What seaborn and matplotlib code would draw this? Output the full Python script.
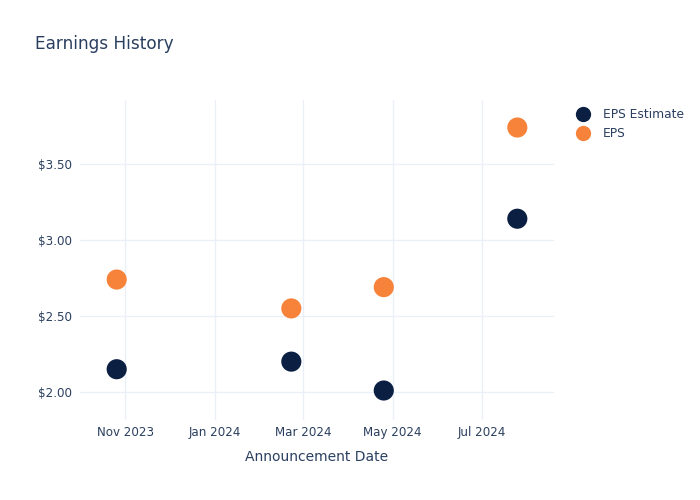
import matplotlib
matplotlib.use("Agg")
import matplotlib.pyplot as plt
import matplotlib.dates as mdates
import seaborn as sns
import pandas as pd

dates = ["2023-10-26", "2024-02-22", "2024-04-25", "2024-07-25"]
eps_estimate = [2.15, 2.20, 2.01, 3.14]
eps_actual = [2.74, 2.55, 2.69, 3.74]
series_names = ["EPS Estimate", "EPS"]
colors = ["#0b1f42", "#f7823a"]

df = pd.DataFrame({
    "date": pd.to_datetime(dates * 2),
    "value": eps_estimate + eps_actual,
    "series": [series_names[0]] * len(dates) + [series_names[1]] * len(dates),
})

sns.set_theme(style="white")
plt.rcParams['font.family'] = ['DejaVu Sans']
text_color = "#2a3f5f"
grid_color = "#ebf0f8"

fig = plt.figure(figsize=(7, 5), dpi=100)
ax = fig.add_axes([80/700, 80/500, (554-80)/700, 320/500])

sns.scatterplot(data=df, x="date", y="value", hue="series",
                palette=dict(zip(series_names, colors)),
                s=210, edgecolor="none", ax=ax, legend=False, zorder=3)

ax.set_xlim(pd.Timestamp("2023-10-01"), pd.Timestamp("2024-08-19"))
ax.set_ylim(1.816, 3.921)
ax.set_yticks([2.0, 2.5, 3.0, 3.5])
ax.set_yticklabels(["$2.00", "$2.50", "$3.00", "$3.50"])
ax.xaxis.set_major_locator(mdates.MonthLocator(bymonth=[1, 3, 5, 7, 11]))
ax.xaxis.set_major_formatter(mdates.DateFormatter("%b %Y"))

ax.grid(True, color=grid_color, linewidth=1)
ax.set_axisbelow(True)
for sp in ax.spines.values():
    sp.set_visible(False)
ax.tick_params(axis="both", length=0, labelsize=8.6, colors=text_color, pad=4)
ax.tick_params(axis="y", pad=6)
ax.set_xlabel("Announcement Date", fontsize=10.0, color=text_color, labelpad=8)
ax.set_ylabel("")

fig.text(35/700, 1 - 44/500, "Earnings History", fontsize=12.15, color=text_color,
         va="center", ha="left")

handles = [plt.Line2D([], [], marker="o", linestyle="none", markersize=11,
                      markerfacecolor=c, markeredgecolor="none") for c in colors]
fig.legend(handles, series_names, loc="upper left", bbox_to_anchor=(571/700, 1 - 103/500),
           frameon=False, fontsize=8.8, labelcolor=text_color, handletextpad=1.0,
           labelspacing=0.5, borderaxespad=0, handlelength=1.2)

fig.savefig("out.png", dpi=100)
